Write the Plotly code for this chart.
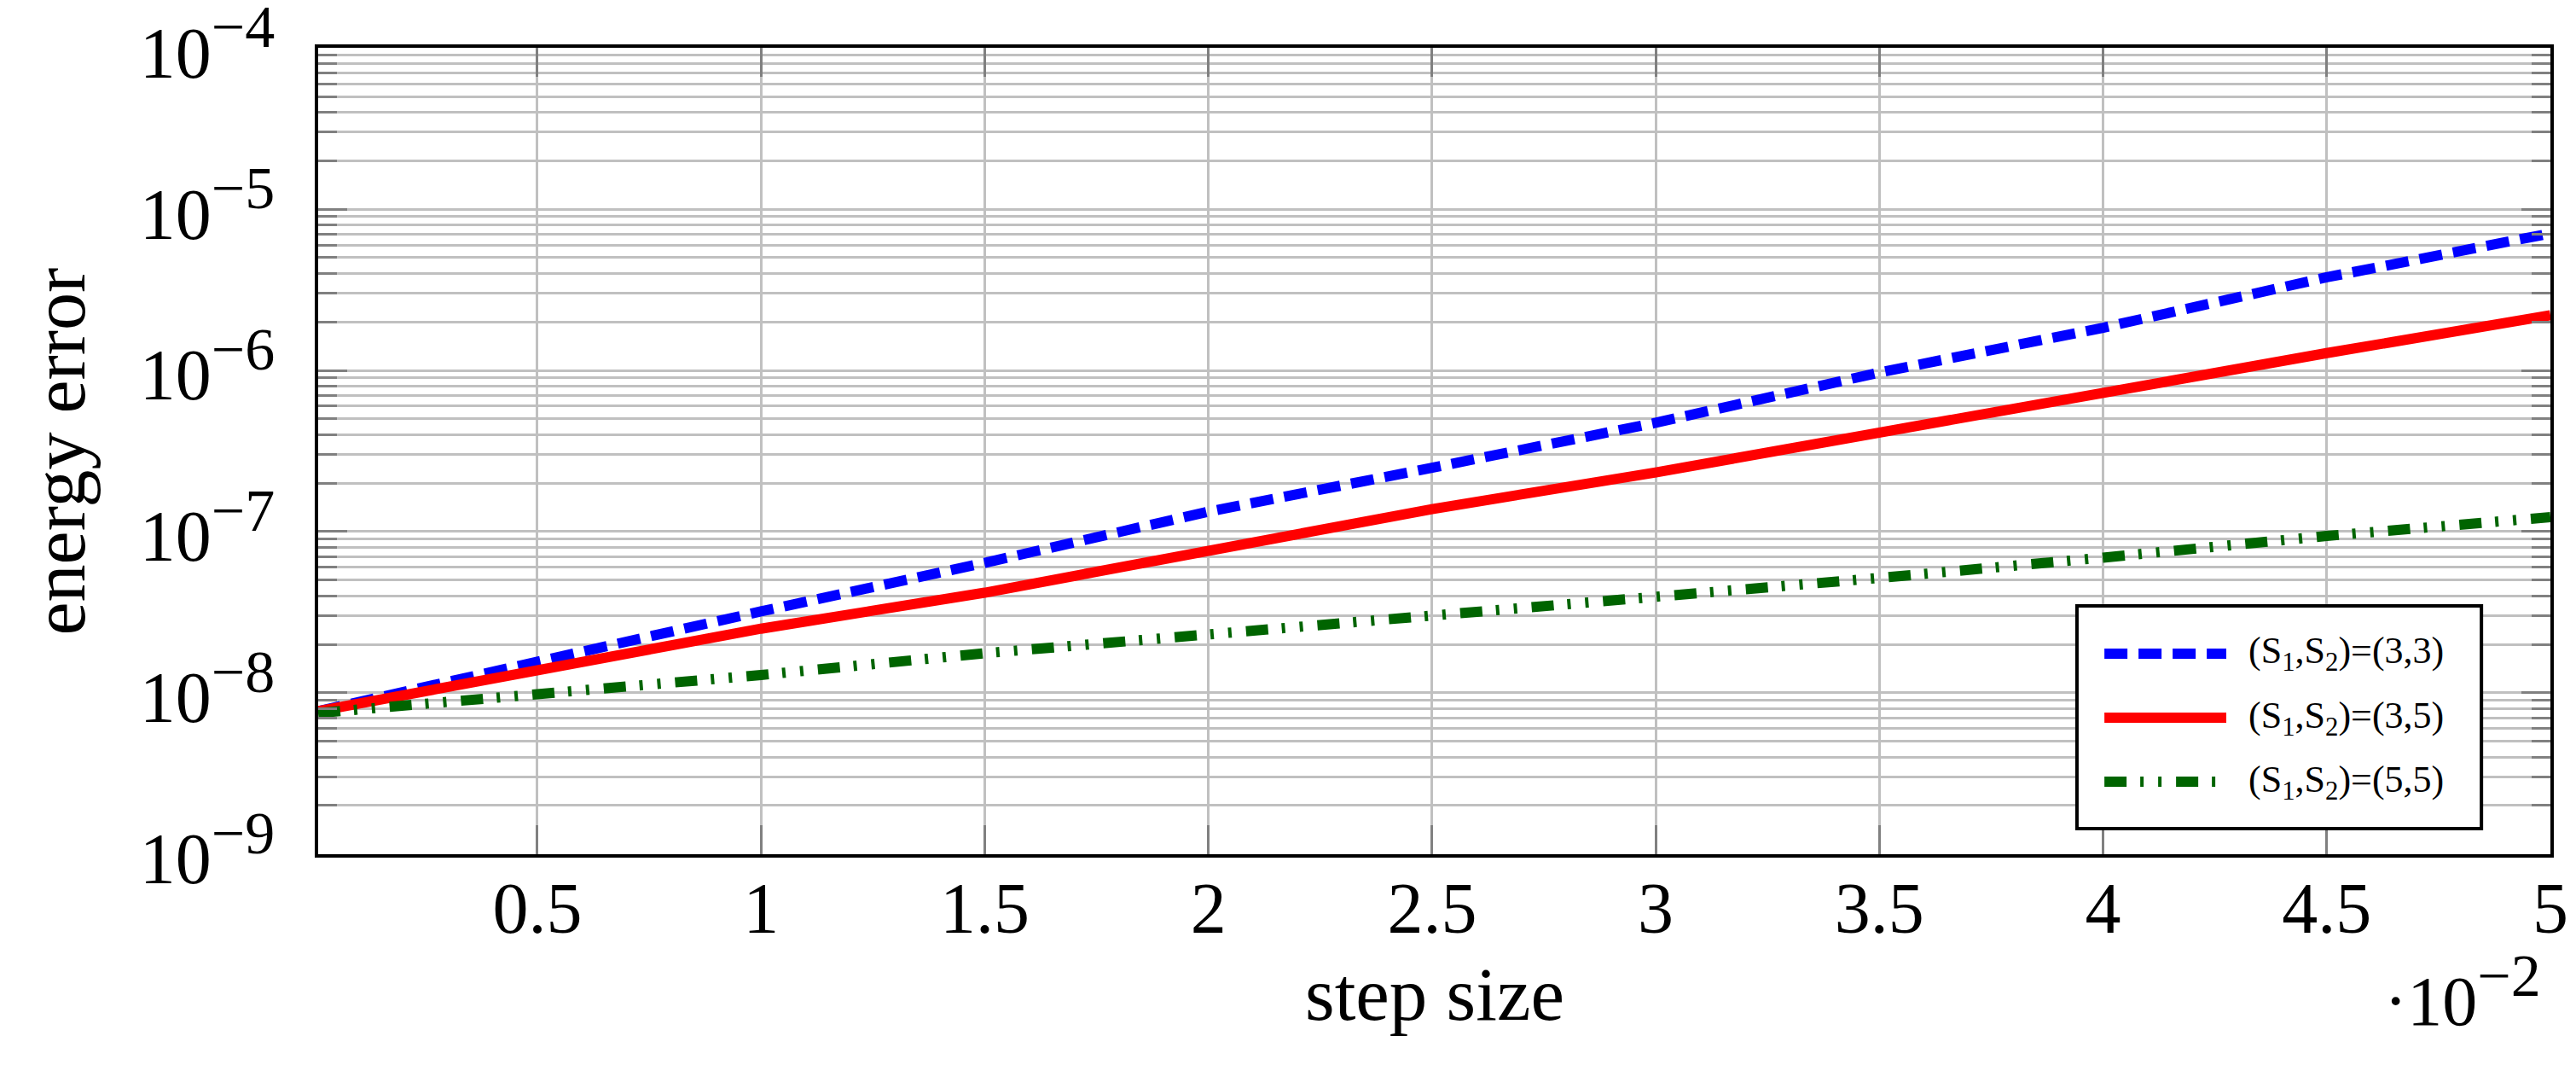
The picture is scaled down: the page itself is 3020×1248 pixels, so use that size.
import plotly.graph_objects as go

# step size, shown in units of 1e-2
step_size = [0.01, 0.5, 1.0, 1.5, 2.0, 2.5, 3.0, 3.5, 4.0, 4.5, 5.0]

# energy error for the three (S1,S2) combinations
err_33 = [7.7e-9, 1.58e-8, 3.2e-8, 6.4e-8, 1.33e-7, 2.49e-7, 4.73e-7, 9.7e-7, 1.84e-6, 3.78e-6, 7.08e-6]
err_35 = [7.7e-9, 1.39e-8, 2.5e-8, 4.18e-8, 7.68e-8, 1.38e-7, 2.33e-7, 4.14e-7, 7.16e-7, 1.28e-6, 2.2e-6]
err_55 = [7.5e-9, 9.8e-9, 1.29e-8, 1.76e-8, 2.29e-8, 3.02e-8, 3.93e-8, 5.16e-8, 6.9e-8, 9.4e-8, 1.23e-7]

series_names = ["(S<sub>1</sub>,S<sub>2</sub>)=(3,3)",
                "(S<sub>1</sub>,S<sub>2</sub>)=(3,5)",
                "(S<sub>1</sub>,S<sub>2</sub>)=(5,5)"]

x_ticks = [0.5, 1, 1.5, 2, 2.5, 3, 3.5, 4, 4.5, 5]
x_ticklabels = ["0.5", "1", "1.5", "2", "2.5", "3", "3.5", "4", "4.5", "5"]

y_ticks = [1e-9, 1e-8, 1e-7, 1e-6, 1e-5, 1e-4]
y_exponents = ["−9", "−8", "−7", "−6", "−5", "−4"]

FONT = "Liberation Serif, Times New Roman, serif"
GRID = "#c0c0c0"
TICK = "#808080"

styles = [
    dict(color="#0000ff", width=12, dash="27px,13px"),
    dict(color="#ff0000", width=12, dash="solid"),
    dict(color="#006400", width=12, dash="26px,16px,4px,17px,4px,17px"),
]

fig = go.Figure()
for i, ys in enumerate([err_33, err_35, err_55]):
    fig.add_trace(go.Scatter(x=step_size, y=ys, mode="lines", name=series_names[i],
                             line=styles[i], showlegend=False))

fig.update_layout(
    width=3020,
    height=1248,
    margin=dict(l=365, r=38, t=48, b=255),
    plot_bgcolor="white",
    paper_bgcolor="white",
    font=dict(family=FONT, size=84, color="black"),
)

fig.update_xaxes(
    range=[0.01, 5],
    tickvals=x_ticks,
    ticktext=x_ticklabels,
    ticks="inside", ticklen=34, tickwidth=3, tickcolor=TICK,
    showgrid=True, gridcolor=GRID, gridwidth=3,
    showline=True, linecolor="black", linewidth=4, mirror="allticks",
    zeroline=False,
    ticklabelstandoff=-13,
    ticklabeloverflow="allow",
    automargin=False,
)

fig.update_yaxes(
    type="log",
    range=[-9.001, -3.999],
    tickvals=y_ticks,
    ticktext=["10<sup><span style='font-size:70px'>%s</span></sup>" % e for e in y_exponents],
    ticks="inside", ticklen=34, tickwidth=3, tickcolor=TICK,
    showgrid=True, gridcolor=GRID, gridwidth=3,
    showline=True, linecolor="black", linewidth=4, mirror="allticks",
    zeroline=False,
    ticklabelstandoff=30,
    ticklabelshift=5,
    ticklabeloverflow="allow",
    automargin=False,
    minor=dict(dtick="D1", ticks="inside", ticklen=22, tickwidth=3, tickcolor=TICK,
               showgrid=True, gridcolor=GRID, gridwidth=3),
)

# legend drawn by hand so the line samples get the long pgfplots look
leg_x0, leg_x1, leg_y0, leg_y1 = 0.7879, 0.9691, 0.0317, 0.3079
sample_x0, sample_x1, text_x = 0.8002, 0.8548, 0.864
row_y = [0.2487, 0.1693, 0.0899]

fig.add_shape(type="rect", xref="paper", yref="paper",
              x0=leg_x0, x1=leg_x1, y0=leg_y0, y1=leg_y1,
              line=dict(color="black", width=4), fillcolor="white", layer="above")
for i, name in enumerate(series_names):
    fig.add_shape(type="line", xref="paper", yref="paper",
                  x0=sample_x0, x1=sample_x1, y0=row_y[i], y1=row_y[i],
                  line=styles[i], layer="above")
    fig.add_annotation(text=name, xref="paper", yref="paper",
                       x=text_x, y=row_y[i], xanchor="left", yanchor="middle",
                       showarrow=False, font=dict(family=FONT, size=44))

# axis titles and the x scale factor
fig.add_annotation(text="energy error", textangle=-90, xref="paper", yref="paper",
                   x=-0.1158, y=0.5, xanchor="center", yanchor="middle",
                   showarrow=False, font=dict(family=FONT, size=88))
fig.add_annotation(text="step size", xref="paper", yref="paper",
                   x=0.5, y=-0.174, xanchor="center", yanchor="middle",
                   showarrow=False, font=dict(family=FONT, size=89))
fig.add_annotation(text="·10<sup><span style='font-size:70px'>−2</span></sup>",
                   xref="paper", yref="paper",
                   x=0.9966, y=-0.17, xanchor="right", yanchor="middle",
                   showarrow=False, font=dict(family=FONT, size=82))

fig.write_html("out.html")
